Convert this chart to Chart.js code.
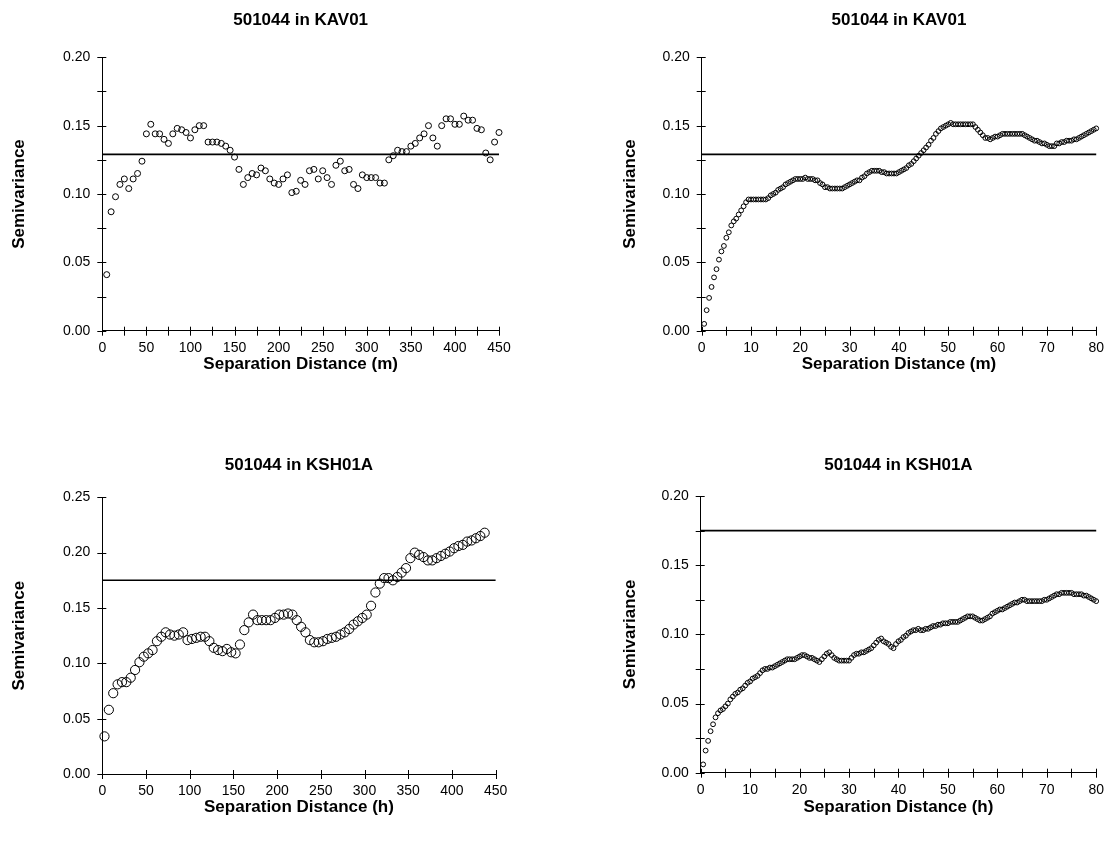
<!DOCTYPE html>
<html>
<head>
<meta charset="utf-8">
<title>Semivariograms of 501044</title>
<script src="https://cdn.jsdelivr.net/npm/chart.js@4.4.1/dist/chart.umd.min.js"></script>
<style>
  html, body { margin: 0; padding: 0; background: #fff; }
  body { width: 1113px; height: 845px; position: relative; overflow: hidden; }
  canvas { position: absolute; }
</style>
</head>
<body>
<canvas id="kav01Coarse" width="556" height="422" style="left:0px;top:0px;width:556px;height:422px"></canvas>
<canvas id="kav01Fine" width="557" height="422" style="left:556px;top:0px;width:557px;height:422px"></canvas>
<canvas id="ksh01aCoarse" width="556" height="423" style="left:0px;top:422px;width:556px;height:423px"></canvas>
<canvas id="ksh01aFine" width="557" height="423" style="left:556px;top:422px;width:557px;height:423px"></canvas>
<script>
// ---- KAV01, 5 m lags (0-450 m) ----
const kav01Lag = [
  5, 10, 15, 20, 25, 30, 35, 40, 45, 50,
  55, 60, 65, 70, 75, 80, 85, 90, 95, 100,
  105, 110, 115, 120, 125, 130, 135, 140, 145, 150,
  155, 160, 165, 170, 175, 180, 185, 190, 195, 200,
  205, 210, 215, 220, 225, 230, 235, 240, 245, 250,
  255, 260, 265, 270, 275, 280, 285, 290, 295, 300,
  305, 310, 315, 320, 325, 330, 335, 340, 345, 350,
  355, 360, 365, 370, 375, 380, 385, 390, 395, 400,
  405, 410, 415, 420, 425, 430, 435, 440, 445, 450
];
const kav01Gamma = [
  0.041, 0.087, 0.098, 0.107, 0.111, 0.104, 0.111, 0.115, 0.124, 0.144,
  0.151, 0.144, 0.144, 0.140, 0.137, 0.144, 0.148, 0.147, 0.145, 0.141,
  0.147, 0.150, 0.150, 0.138, 0.138, 0.138, 0.137, 0.135, 0.132, 0.127,
  0.118, 0.107, 0.112, 0.115, 0.114, 0.119, 0.117, 0.111, 0.108, 0.107,
  0.111, 0.114, 0.101, 0.102, 0.110, 0.107, 0.117, 0.118, 0.111, 0.117,
  0.112, 0.107, 0.121, 0.124, 0.117, 0.118, 0.107, 0.104, 0.114, 0.112,
  0.112, 0.112, 0.108, 0.108, 0.125, 0.128, 0.132, 0.131, 0.131, 0.135,
  0.137, 0.141, 0.144, 0.150, 0.141, 0.135, 0.150, 0.155, 0.155, 0.151,
  0.151, 0.157, 0.154, 0.154, 0.148, 0.147, 0.130, 0.125, 0.138, 0.145
];

// ---- 0.5 lags (0-80), shared by both fine-scale panels ----
const fineLag = [
  0.5, 1, 1.5, 2, 2.5, 3, 3.5, 4, 4.5, 5,
  5.5, 6, 6.5, 7, 7.5, 8, 8.5, 9, 9.5, 10,
  10.5, 11, 11.5, 12, 12.5, 13, 13.5, 14, 14.5, 15,
  15.5, 16, 16.5, 17, 17.5, 18, 18.5, 19, 19.5, 20,
  20.5, 21, 21.5, 22, 22.5, 23, 23.5, 24, 24.5, 25,
  25.5, 26, 26.5, 27, 27.5, 28, 28.5, 29, 29.5, 30,
  30.5, 31, 31.5, 32, 32.5, 33, 33.5, 34, 34.5, 35,
  35.5, 36, 36.5, 37, 37.5, 38, 38.5, 39, 39.5, 40,
  40.5, 41, 41.5, 42, 42.5, 43, 43.5, 44, 44.5, 45,
  45.5, 46, 46.5, 47, 47.5, 48, 48.5, 49, 49.5, 50,
  50.5, 51, 51.5, 52, 52.5, 53, 53.5, 54, 54.5, 55,
  55.5, 56, 56.5, 57, 57.5, 58, 58.5, 59, 59.5, 60,
  60.5, 61, 61.5, 62, 62.5, 63, 63.5, 64, 64.5, 65,
  65.5, 66, 66.5, 67, 67.5, 68, 68.5, 69, 69.5, 70,
  70.5, 71, 71.5, 72, 72.5, 73, 73.5, 74, 74.5, 75,
  75.5, 76, 76.5, 77, 77.5, 78, 78.5, 79, 79.5, 80
];

// ---- KAV01, 0.5 m lags ----
const kav01GammaFine = [
  0.005, 0.015, 0.024, 0.032, 0.039, 0.045, 0.052, 0.058, 0.062, 0.068,
  0.072, 0.077, 0.080, 0.082, 0.085, 0.088, 0.091, 0.094, 0.096, 0.096,
  0.096, 0.096, 0.096, 0.096, 0.096, 0.096, 0.097, 0.099, 0.100, 0.101,
  0.103, 0.104, 0.105, 0.107, 0.108, 0.109, 0.110, 0.111, 0.111, 0.111,
  0.111, 0.112, 0.111, 0.111, 0.111, 0.110, 0.110, 0.108, 0.107, 0.105,
  0.105, 0.104, 0.104, 0.104, 0.104, 0.104, 0.104, 0.105, 0.106, 0.107,
  0.108, 0.109, 0.110, 0.110, 0.112, 0.113, 0.115, 0.116, 0.117, 0.117,
  0.117, 0.117, 0.116, 0.116, 0.115, 0.115, 0.115, 0.115, 0.115, 0.116,
  0.117, 0.118, 0.119, 0.121, 0.122, 0.124, 0.126, 0.128, 0.130, 0.132,
  0.134, 0.136, 0.139, 0.141, 0.144, 0.146, 0.148, 0.149, 0.150, 0.151,
  0.152, 0.151, 0.151, 0.151, 0.151, 0.151, 0.151, 0.151, 0.151, 0.151,
  0.149, 0.147, 0.145, 0.143, 0.141, 0.141, 0.140, 0.141, 0.142, 0.142,
  0.143, 0.144, 0.144, 0.144, 0.144, 0.144, 0.144, 0.144, 0.144, 0.144,
  0.143, 0.142, 0.141, 0.140, 0.139, 0.139, 0.138, 0.137, 0.137, 0.136,
  0.135, 0.135, 0.135, 0.137, 0.137, 0.138, 0.138, 0.139, 0.139, 0.139,
  0.140, 0.140, 0.141, 0.142, 0.143, 0.144, 0.145, 0.146, 0.147, 0.148
];

// ---- KSH01A, 5 h lags (0-450 h) ----
const ksh01aLag = [
  2.5, 7.5, 12.5, 17.5, 22.5, 27.5, 32.5, 37.5, 42.5, 47.5,
  52.5, 57.5, 62.5, 67.5, 72.5, 77.5, 82.5, 87.5, 92.5, 97.5,
  102.5, 107.5, 112.5, 117.5, 122.5, 127.5, 132.5, 137.5, 142.5, 147.5,
  152.5, 157.5, 162.5, 167.5, 172.5, 177.5, 182.5, 187.5, 192.5, 197.5,
  202.5, 207.5, 212.5, 217.5, 222.5, 227.5, 232.5, 237.5, 242.5, 247.5,
  252.5, 257.5, 262.5, 267.5, 272.5, 277.5, 282.5, 287.5, 292.5, 297.5,
  302.5, 307.5, 312.5, 317.5, 322.5, 327.5, 332.5, 337.5, 342.5, 347.5,
  352.5, 357.5, 362.5, 367.5, 372.5, 377.5, 382.5, 387.5, 392.5, 397.5,
  402.5, 407.5, 412.5, 417.5, 422.5, 427.5, 432.5, 437.5
];
const ksh01aGamma = [
  0.034, 0.058, 0.073, 0.081, 0.083, 0.083, 0.087, 0.094, 0.101, 0.106,
  0.109, 0.112, 0.120, 0.124, 0.128, 0.126, 0.125, 0.126, 0.128, 0.121,
  0.122, 0.123, 0.124, 0.124, 0.120, 0.114, 0.112, 0.111, 0.113, 0.110,
  0.109, 0.117, 0.130, 0.137, 0.144, 0.139, 0.139, 0.139, 0.139, 0.141,
  0.144, 0.144, 0.145, 0.144, 0.139, 0.133, 0.128, 0.121, 0.119, 0.119,
  0.120, 0.122, 0.123, 0.124, 0.126, 0.128, 0.131, 0.135, 0.138, 0.141,
  0.144, 0.152, 0.164, 0.172, 0.177, 0.177, 0.175, 0.178, 0.182, 0.186,
  0.195, 0.200, 0.198, 0.196, 0.193, 0.193, 0.195, 0.197, 0.199, 0.201,
  0.204, 0.206, 0.207, 0.210, 0.211, 0.213, 0.215, 0.218
];

// ---- KSH01A, 0.5 h lags ----
const ksh01aGammaFine = [
  0.006, 0.016, 0.023, 0.030, 0.035, 0.040, 0.043, 0.045, 0.046, 0.048,
  0.050, 0.053, 0.055, 0.057, 0.058, 0.060, 0.061, 0.063, 0.065, 0.066,
  0.068, 0.069, 0.070, 0.072, 0.074, 0.075, 0.075, 0.076, 0.076, 0.077,
  0.078, 0.079, 0.080, 0.081, 0.082, 0.082, 0.082, 0.082, 0.083, 0.084,
  0.085, 0.085, 0.084, 0.083, 0.083, 0.082, 0.081, 0.080, 0.082, 0.084,
  0.086, 0.087, 0.085, 0.083, 0.082, 0.081, 0.081, 0.081, 0.081, 0.081,
  0.083, 0.085, 0.086, 0.086, 0.087, 0.087, 0.088, 0.089, 0.090, 0.092,
  0.094, 0.096, 0.097, 0.095, 0.094, 0.093, 0.091, 0.090, 0.093, 0.095,
  0.096, 0.098, 0.099, 0.101, 0.102, 0.103, 0.103, 0.104, 0.103, 0.103,
  0.104, 0.104, 0.105, 0.106, 0.106, 0.107, 0.107, 0.108, 0.108, 0.108,
  0.109, 0.109, 0.109, 0.109, 0.110, 0.111, 0.112, 0.113, 0.113, 0.113,
  0.112, 0.111, 0.110, 0.110, 0.111, 0.112, 0.113, 0.115, 0.116, 0.117,
  0.118, 0.118, 0.119, 0.120, 0.121, 0.122, 0.123, 0.123, 0.124, 0.125,
  0.125, 0.124, 0.124, 0.124, 0.124, 0.124, 0.124, 0.124, 0.125, 0.125,
  0.126, 0.127, 0.128, 0.129, 0.129, 0.130, 0.130, 0.130, 0.130, 0.130,
  0.129, 0.129, 0.129, 0.129, 0.128, 0.128, 0.127, 0.126, 0.125, 0.124
];

// Sample variance (sill) of each borehole
const sillKAV01 = 0.129;
const sillKSH01A = 0.175;

Chart.defaults.font.family = '"Liberation Sans", Arial, Helvetica, sans-serif';
Chart.defaults.color = '#000';

const isMultiple = (v, step) => Math.abs(v / step - Math.round(v / step)) < 1e-6;

// Tick marks that straddle each axis line
const crossTicks = {
  id: 'crossTicks',
  afterDraw(chart) {
    const ctx = chart.ctx;
    const { left, bottom } = chart.chartArea;
    const xs = chart.scales.x, ys = chart.scales.y;
    ctx.save();
    ctx.lineWidth = 1;
    ctx.strokeStyle = '#000';
    ctx.beginPath();
    xs.ticks.forEach(t => {
      const px = Math.round(xs.getPixelForValue(t.value)) + 0.5;
      ctx.moveTo(px, bottom - 4);
      ctx.lineTo(px, bottom + 5);
    });
    ys.ticks.forEach(t => {
      const py = Math.round(ys.getPixelForValue(t.value)) + 0.5;
      ctx.moveTo(left - 5, py);
      ctx.lineTo(left + 4, py);
    });
    ctx.stroke();
    ctx.restore();
  }
};

function makePanel(id, p) {
  return new Chart(document.getElementById(id), {
    type: 'scatter',
    data: {
      datasets: [
        {
          data: p.lags.map((x, i) => ({ x: x, y: p.gamma[i] })),
          pointRadius: p.radius,
          pointBorderWidth: 1,
          pointBorderColor: '#000',
          pointBackgroundColor: 'rgba(0,0,0,0)',
          showLine: false,
          clip: false
        },
        {
          data: [{ x: p.xMin, y: p.sill }, { x: p.xMax, y: p.sill }],
          showLine: true,
          borderColor: '#000',
          borderWidth: 1.6,
          pointRadius: 0,
          fill: false,
          clip: false
        }
      ]
    },
    options: {
      responsive: false,
      animation: false,
      devicePixelRatio: 1,
      events: [],
      layout: { padding: p.pad },
      plugins: {
        legend: { display: false },
        tooltip: { enabled: false },
        title: {
          display: true,
          text: p.title,
          fullSize: false,
          color: '#000',
          font: { size: 17, weight: 'bold' },
          padding: p.titlePad
        }
      },
      scales: {
        x: {
          type: 'linear',
          min: p.xMin,
          max: p.xMax,
          grid: { display: false, drawTicks: false, tickLength: 0 },
          border: { display: true, color: '#000', width: 1 },
          ticks: {
            stepSize: p.xStep,
            autoSkip: false,
            maxRotation: 0,
            padding: 9,
            color: '#000',
            font: { size: 14 },
            callback: v => isMultiple(v, p.xLabelStep) ? String(Math.round(v)) : ''
          },
          title: {
            display: true,
            text: p.xTitle,
            color: '#000',
            font: { size: 17, weight: 'bold' },
            padding: { top: 0, bottom: p.xTitlePadB }
          },
          afterFit: s => { s.height = p.xAxisH; }
        },
        y: {
          type: 'linear',
          min: 0,
          max: p.yMax,
          grid: { display: false, drawTicks: false, tickLength: 0 },
          border: { display: true, color: '#000', width: 1 },
          ticks: {
            stepSize: p.yStep,
            autoSkip: false,
            padding: 12,
            color: '#000',
            font: { size: 14 },
            callback: v => isMultiple(v, 0.05) ? v.toFixed(2) : ''
          },
          title: {
            display: true,
            text: 'Semivariance',
            color: '#000',
            font: { size: 17, weight: 'bold' },
            padding: { top: p.yTitlePadT, bottom: 0 }
          },
          afterFit: s => { s.width = p.yAxisW; }
        }
      }
    },
    plugins: [crossTicks]
  });
}

makePanel('kav01Coarse', {
  title: '501044 in KAV01', xTitle: 'Separation Distance (m)',
  lags: kav01Lag, gamma: kav01Gamma, sill: sillKAV01, radius: 3,
  xMin: 0, xMax: 450, xStep: 25, xLabelStep: 50, yMax: 0.2, yStep: 0.025,
  pad: { left: 0, right: 57, top: 0, bottom: 45.3 },
  titlePad: { top: 9.8, bottom: 27.1 },
  xAxisH: 46, xTitlePadB: 2.5, yAxisW: 102.3, yTitlePadT: 9.3
});

makePanel('kav01Fine', {
  title: '501044 in KAV01', xTitle: 'Separation Distance (m)',
  lags: fineLag, gamma: kav01GammaFine, sill: sillKAV01, radius: 2.4,
  xMin: 0, xMax: 80, xStep: 5, xLabelStep: 10, yMax: 0.2, yStep: 0.025,
  pad: { left: 60, right: 14, top: 0, bottom: 45.3 },
  titlePad: { top: 9.8, bottom: 27.1 },
  xAxisH: 46, xTitlePadB: 2.5, yAxisW: 85.7, yTitlePadT: 3.8
});

makePanel('ksh01aCoarse', {
  title: '501044 in KSH01A', xTitle: 'Separation Distance (h)',
  lags: ksh01aLag, gamma: ksh01aGamma, sill: sillKSH01A, radius: 4.6,
  xMin: 0, xMax: 450, xStep: 50, xLabelStep: 50, yMax: 0.25, yStep: 0.05,
  pad: { left: 0, right: 60.4, top: 0, bottom: 25 },
  titlePad: { top: 32.8, bottom: 22.1 },
  xAxisH: 46, xTitlePadB: 2.8, yAxisW: 102.3, yTitlePadT: 9.3
});

makePanel('ksh01aFine', {
  title: '501044 in KSH01A', xTitle: 'Separation Distance (h)',
  lags: fineLag, gamma: ksh01aGammaFine, sill: sillKSH01A, radius: 2.4,
  xMin: 0, xMax: 80, xStep: 5, xLabelStep: 10, yMax: 0.2, yStep: 0.025,
  pad: { left: 60, right: 13, top: 0, bottom: 25.3 },
  titlePad: { top: 32.8, bottom: 20.8 },
  xAxisH: 47, xTitlePadB: 2.5, yAxisW: 84.7, yTitlePadT: 3.8
});
</script>
</body>
</html>
